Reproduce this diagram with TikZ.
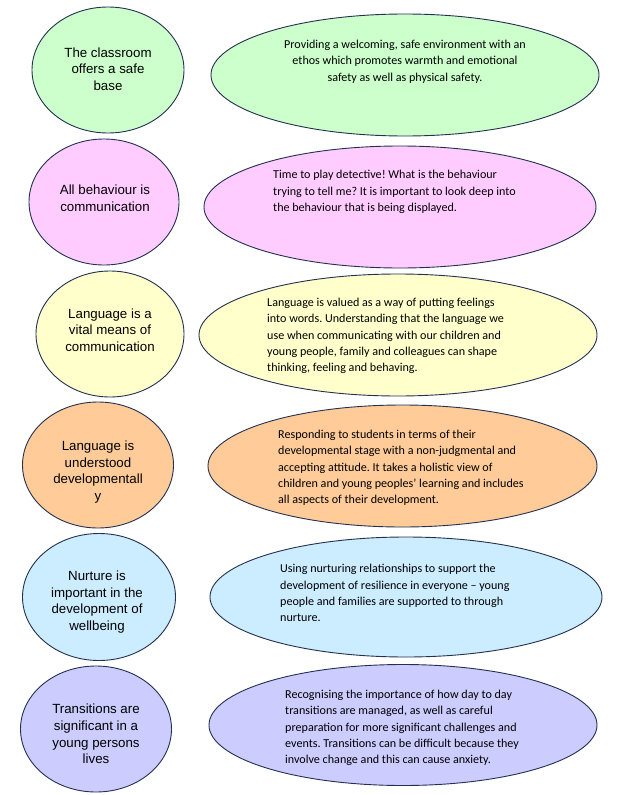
\documentclass[tikz,border=0pt]{standalone}
\usepackage{fontspec}
\setmainfont{Liberation Sans}
\newfontfamily\calib{Carlito}
\usetikzlibrary{shapes.geometric}
\frenchspacing
\definecolor{edge}{RGB}{35,48,80}
\definecolor{cgreen}{HTML}{CCFFCC}
\definecolor{cpink}{HTML}{FFCCFF}
\definecolor{cyellow}{HTML}{FFFFCC}
\definecolor{corange}{HTML}{FFCC99}
\definecolor{cblue}{HTML}{CCECFF}
\definecolor{cviolet}{HTML}{CCCCFF}
\tikzset{
  bub/.style={ellipse, draw=edge, line width=0.9bp, inner sep=0pt},
  ctext/.style={font=\fontsize{13.3bp}{16.7bp}\selectfont, align=center, text=black, inner sep=0pt},
  etext/.style={font=\calib\fontsize{12.1bp}{16.3bp}\selectfont\frenchspacing, inner sep=0pt, text=black}
}
\begin{document}
\begin{tikzpicture}[x=1bp,y=-1bp]
\useasboundingbox (0,0) rectangle (622,795);
% row 1
\node[bub, fill=cgreen, minimum width=152bp, minimum height=126bp] (c1) at (108,70) {};
\node[bub, fill=cgreen, minimum width=388bp, minimum height=122bp] (e1) at (405,75) {};
\node[ctext] (c1t) at (108,69) {The classroom\\offers a safe\\base};
\node[etext, align=center] (e1t) at (405,61.5) {Providing a welcoming, safe environment with an\\ethos which promotes warmth and emotional\\safety as well as physical safety.};
% row 2
\node[bub, fill=cpink, minimum width=150bp, minimum height=126bp] (c2) at (104,202) {};
\node[bub, fill=cpink, minimum width=392bp, minimum height=122bp] (e2) at (400,207) {};
\node[ctext] (c2t) at (105,198) {All behaviour is\\communication};
\node[etext, align=left, anchor=west] (e2t) at (273,192) {Time to play detective! What is the behaviour\\trying to tell me? It is important to look deep into\\the behaviour that is being displayed.};
% row 3
\node[bub, fill=cyellow, minimum width=148bp, minimum height=126bp] (c3) at (110,334) {};
\node[bub, fill=cyellow, minimum width=398bp, minimum height=122bp] (e3) at (398,335) {};
\node[ctext] (c3t) at (110,330) {Language is a\\vital means of\\communication};
\node[etext, align=left, anchor=west] (e3t) at (267,336) {Language is valued as a way of putting feelings\\into words. Understanding that the language we\\use when communicating with our children and\\young people, family and colleagues can shape\\thinking, feeling and behaving.};
% row 4
\node[bub, fill=corange, minimum width=151bp, minimum height=126bp] (c4) at (98,465) {};
\node[bub, fill=corange, minimum width=389bp, minimum height=122bp] (e4) at (402.5,466) {};
\node[ctext] (c4t) at (98,472) {Language is\\understood\\developmentall\\y};
\node[etext, align=left, anchor=west] (e4t) at (278,468) {Responding to students in terms of their\\developmental stage with a non-judgmental and\\accepting attitude. It takes a holistic view of\\children and young peoples’ learning and includes\\all aspects of their development.};
% row 5
\node[bub, fill=cblue, minimum width=153bp, minimum height=127bp] (c5) at (99,597) {};
\node[bub, fill=cblue, minimum width=392bp, minimum height=120bp] (e5) at (406,597) {};
\node[ctext] (c5t) at (97,602) {Nurture is\\important in the\\development of\\wellbeing};
\node[etext, align=left, anchor=west] (e5t) at (280,593) {Using nurturing relationships to support the\\development of resilience in everyone – young\\people and families are supported to through\\nurture.};
% row 6
\node[bub, fill=cviolet, minimum width=151bp, minimum height=126bp] (c6) at (96,729) {};
\node[bub, fill=cviolet, minimum width=388bp, minimum height=121bp] (e6) at (403,725) {};
\node[ctext] (c6t) at (96,734) {Transitions are\\significant in a\\young persons\\lives};
\node[etext, align=left, anchor=west] (e6t) at (285,728) {Recognising the importance of how day to day\\transitions are managed, as well as careful\\preparation for more significant challenges and\\events. Transitions can be difficult because they\\involve change and this can cause anxiety.};
\end{tikzpicture}
\end{document}
